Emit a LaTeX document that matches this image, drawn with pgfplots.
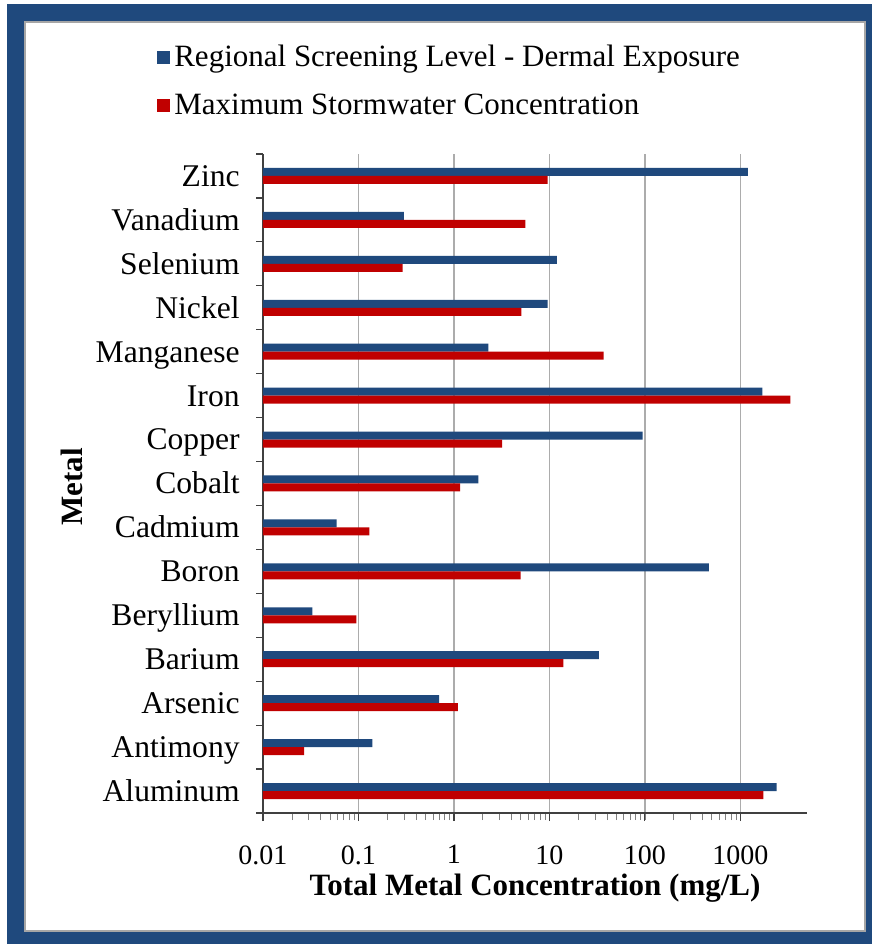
\documentclass[border=0pt]{standalone}
\usepackage{fontspec}
\setmainfont{Liberation Serif}
\usepackage{pgfplots}
\pgfplotsset{compat=1.18}
\definecolor{rslblue}{HTML}{1F497D}
\definecolor{stormred}{HTML}{C00000}
\definecolor{framegray}{HTML}{A6A6A6}

\begin{document}
\begin{tikzpicture}
% framed panel
\path[use as bounding box] (0,0) rectangle (436pt,472pt);
\fill[rslblue] (3.5pt,0pt) rectangle (436pt,470pt);
\filldraw[fill=white, draw=framegray, line width=1pt] (12.5pt,6.5pt) rectangle (432.5pt,461pt);
\begin{axis}[
  at={(131.5pt,65.5pt)}, anchor=south west,
  scale only axis, width=272pt, height=329.5pt,
  xmode=log, log origin=infty,
  xmin=0.01, xmax=5000,
  ymin=-0.5, ymax=14.5,
  xbar, bar width=4pt,
  axis x line*=bottom, axis y line*=left,
  axis line style={-, black!75, line width=0.6pt},
  tick align=outside,
  major tick length=4pt,
  minor tick length=3.5pt,
  xtick={0.01,0.1,1,10,100,1000},
  xticklabels={0.01,0.1,1,10,100,1000},
  minor xtick={},
  major x tick style={black!75, line width=0.6pt},
  ytick={0,...,14},
  yticklabels={Aluminum,Antimony,Arsenic,Barium,Beryllium,Boron,Cadmium,Cobalt,Copper,Iron,Manganese,Nickel,Selenium,Vanadium,Zinc},
  major y tick style={draw=none},
  minor ytick={-0.5,0.5,...,14.5},
  minor y tick style={black!75, line width=0.6pt},
  xmajorgrids=true,
  major x grid style={gray!65, line width=0.7pt},
  xticklabel style={font=\fontsize{14}{16}\selectfont, inner sep=0pt, anchor=north, yshift=-12pt},
  yticklabel style={font=\fontsize{15.8}{18}\selectfont, inner sep=0pt, anchor=base east, xshift=-7.5pt, yshift=-5.2pt},
  xlabel={Total Metal Concentration (mg/L)},
  xlabel style={font=\fontsize{15.5}{18}\selectfont\bfseries, at={(rel axis cs:0.5,0)}, anchor=center, yshift=-37.5pt},
  ylabel={Metal},
  ylabel style={font=\fontsize{15.5}{18}\selectfont\bfseries, at={(rel axis cs:-0.351,0.495)}, anchor=center},
  legend style={at={(rel axis cs:-0.195,1.172)}, anchor=north west, draw=none, fill=none,
    inner sep=0pt, font=\fontsize{15.5}{18}\selectfont, row sep=8pt,
    nodes={inner xsep=2pt}},
  legend cell align=left,
  legend image code/.code={\fill[#1] (0pt,-3.25pt) rectangle (6.5pt,3.25pt);},
]
% Regional Screening Level - Dermal Exposure (mg/L)
\addplot[fill=rslblue, draw=none, bar shift=2pt] coordinates {
  (2400,0) (0.14,1) (0.70,2) (33,3) (0.033,4) (470,5) (0.059,6) (1.8,7)
  (95,8) (1700,9) (2.3,10) (9.6,11) (12,12) (0.30,13) (1200,14)};
% Maximum stormwater concentration (mg/L)
\addplot[fill=stormred, draw=none, bar shift=-2pt] coordinates {
  (1750,0) (0.027,1) (1.1,2) (14,3) (0.095,4) (5.0,5) (0.13,6) (1.16,7)
  (3.2,8) (3350,9) (37,10) (5.1,11) (0.29,12) (5.6,13) (9.6,14)};
\legend{Regional Screening Level - Dermal Exposure, Maximum Stormwater Concentration}
\end{axis}
\end{tikzpicture}
\end{document}
